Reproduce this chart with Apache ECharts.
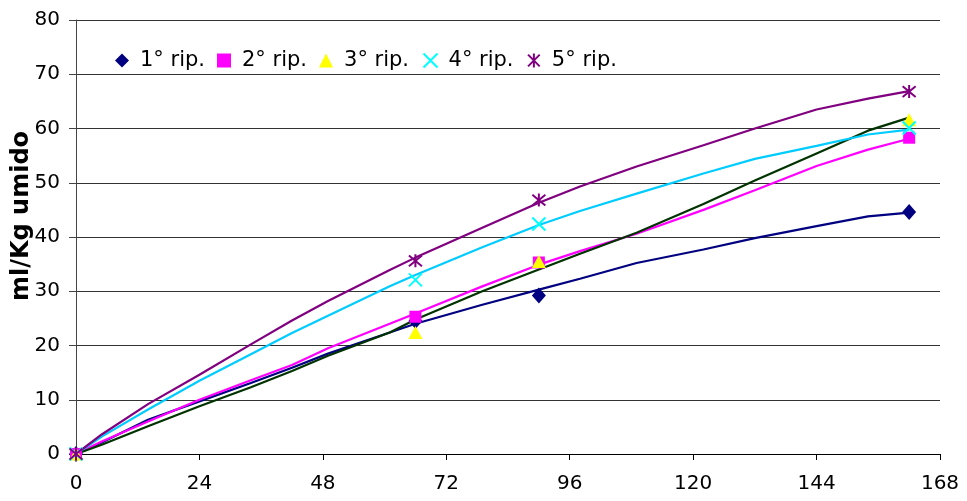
<!DOCTYPE html>
<html>
<head>
<meta charset="utf-8">
<script src="https://cdn.jsdelivr.net/npm/echarts@6/dist/echarts.min.js"></script>
<style>
html,body{margin:0;padding:0;background:#fff;}
#chart{width:967px;height:501px;}
</style>
</head>
<body>
<div id="chart"></div>
<script>
// Trend-line sample hours and values
const lineHours = [0, 5, 14, 24, 34, 42, 49, 61, 66, 79, 90, 98, 109, 122, 132, 144, 154, 162];
const line1 = [0, 2.1, 6.3, 9.7, 13.1, 15.9, 18.5, 22.4, 24.0, 27.5, 30.3, 32.3, 35.2, 37.7, 39.8, 42.0, 43.8, 44.5];
const line2 = [0, 2.3, 6.0, 10.0, 13.6, 16.4, 19.5, 24.0, 25.9, 30.9, 34.9, 37.4, 40.6, 45.0, 48.6, 53.1, 56.1, 58.1];
const line3 = [0, 1.7, 5.1, 8.8, 12.3, 15.3, 18.1, 22.4, 24.8, 30.0, 34.0, 36.9, 40.8, 46.1, 50.4, 55.4, 59.6, 62.0];
const line4 = [0, 3.2, 8.2, 13.5, 18.4, 22.3, 25.5, 30.9, 33.0, 38.1, 42.2, 44.8, 48.0, 51.7, 54.4, 56.8, 58.9, 59.8];
const line5 = [0, 3.6, 9.2, 14.6, 20.2, 24.6, 28.2, 33.9, 36.2, 41.7, 46.3, 49.3, 53.0, 56.9, 60.0, 63.5, 65.5, 66.9];

// Measured points
const pointHours = [0, 66, 90, 162];
const rip1 = [0, 24.5, 29.2, 44.6];
const rip2 = [0, 25.3, 35.3, 58.3];
const rip3 = [0, 22.4, 35.5, 61.6];
const rip4 = [0, 32.1, 42.4, 60.1];
const rip5 = [0, 35.6, 46.8, 66.8];

const seriesNames = ['1° rip.', '2° rip.', '3° rip.', '4° rip.', '5° rip.'];
const xTicks = [0, 24, 48, 72, 96, 120, 144, 168];
const yTicks = [0, 10, 20, 30, 40, 50, 60, 70, 80];

const pair = (xs, ys) => xs.map((x, i) => [x, ys[i]]);

const lineColors = ['#000080', '#ff00ff', '#003300', '#00ccff', '#800080'];
const lines = [line1, line2, line3, line4, line5];
const pts = [rip1, rip2, rip3, rip4, rip5];

const lineSeries = lines.map((d, i) => ({
  type: 'line',
  name: 'trend' + i,
  data: pair(lineHours, d),
  symbol: 'none',
  lineStyle: { color: lineColors[i], width: 2.2 },
  itemStyle: { color: lineColors[i] },
  z: 2,
  silent: true
}));

const markerDefs = [
  { symbol: 'diamond', size: [14, 16], itemStyle: { color: '#000080', opacity: 1 } },
  { symbol: 'rect', size: 12, itemStyle: { color: '#ff00ff', opacity: 1 } },
  { symbol: 'triangle', size: [14, 13], itemStyle: { color: '#ffff00', opacity: 1 } },
  { symbol: 'path://M0,0L10,10M10,0L0,10', size: 13, itemStyle: { color: 'none', borderColor: '#00ffff', borderWidth: 2, opacity: 1 } },
  { symbol: 'path://M0,0L10,10M10,0L0,10M5,-1L5,11', size: 13, itemStyle: { color: 'none', borderColor: '#800080', borderWidth: 2, opacity: 1 } }
];

const scatterSeries = pts.map((d, i) => ({
  type: 'scatter',
  name: seriesNames[i],
  data: pair(pointHours, d),
  symbol: markerDefs[i].symbol,
  symbolSize: markerDefs[i].size,
  itemStyle: markerDefs[i].itemStyle,
  z: 5
}));

const chart = echarts.init(document.getElementById('chart'), null, { renderer: 'canvas' });
chart.setOption({
  animation: false,
  backgroundColor: '#fff',
  textStyle: { fontFamily: 'DejaVu Sans' },
  grid: { left: 76, right: 27, top: 20, bottom: 47 },
  legend: {
    data: seriesNames,
    left: 110,
    top: 45,
    itemGap: 12,
    itemWidth: 14,
    itemHeight: 14,
    textStyle: { fontSize: 21, color: '#000', fontFamily: 'DejaVu Sans', padding: [0, 0, 0, 6] }
  },
  graphic: [{
    type: 'text',
    x: 22,
    y: 216,
    rotation: Math.PI / 2,
    style: {
      text: 'ml/Kg umido',
      font: 'bold 24px "DejaVu Sans"',
      fill: '#000',
      align: 'center',
      verticalAlign: 'middle'
    }
  }],
  xAxis: {
    type: 'value',
    min: xTicks[0],
    max: xTicks[xTicks.length - 1],
    interval: 24,
    axisLine: { show: true, lineStyle: { color: '#000', width: 1 } },
    axisTick: { show: true, length: 6, inside: false, lineStyle: { color: '#000' } },
    axisLabel: { fontSize: 20, color: '#000', margin: 20 },
    splitLine: { show: false }
  },
  yAxis: {
    type: 'value',
    min: yTicks[0],
    max: yTicks[yTicks.length - 1],
    interval: 10,
    axisLine: { show: true, lineStyle: { color: '#444', width: 1 } },
    axisTick: { show: true, length: 7, lineStyle: { color: '#444' } },
    axisLabel: { fontSize: 20, color: '#000', margin: 16 },
    splitLine: { show: true, lineStyle: { color: '#333', width: 1 } }
  },
  series: [...lineSeries, ...scatterSeries]
});
</script>
</body>
</html>
